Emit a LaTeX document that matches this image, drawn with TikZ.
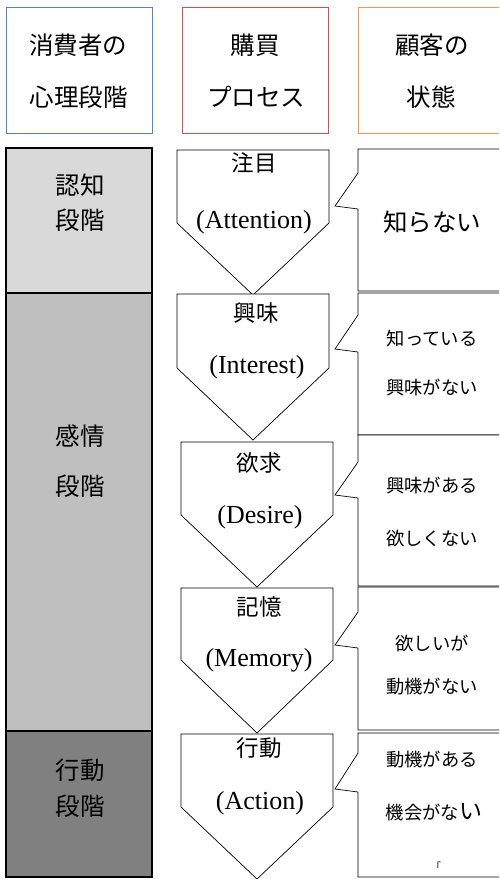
\documentclass[tikz,border=0pt]{standalone}
\usepackage{fontspec}
\newfontfamily\jp{Noto Sans CJK JP}
\newfontfamily\latf{Liberation Serif}
\definecolor{hblue}{RGB}{84,130,200}
\definecolor{hred}{RGB}{215,80,80}
\definecolor{horange}{RGB}{247,150,70}
\definecolor{gone}{RGB}{217,217,217}
\definecolor{gtwo}{RGB}{191,191,191}
\definecolor{gthree}{RGB}{128,128,128}
\newcommand\myPent[5]{\draw[pentst] (#1,#3) -- (#2,#3) -- (#2,#4) -- ({(#1+#2)/2},#5) -- (#1,#4) -- cycle;}
\newcommand\myCall[5]{\draw[callst] (358,#1) -- (515,#1) -- (515,#2) -- (358,#2) -- (358,#5) -- (335,#4) -- (358,#3) -- cycle;}
\begin{document}
\begin{tikzpicture}[x=1pt,y=-1pt,
  hdrbox/.style={line width=0.9pt, fill=white},
  stagebox/.style={draw=black, line width=1.1pt},
  pentst/.style={draw=black, line width=0.7pt, fill=white, line join=miter},
  callst/.style={draw=black, line width=0.7pt, fill=white},
  big/.style={inner sep=0pt, font=\jp\fontsize{24.5}{24.5}\selectfont},
  mid/.style={inner sep=0pt, font=\jp\fontsize{22.5}{22.5}\selectfont},
  lat/.style={inner sep=0pt, font=\latf\fontsize{26}{26}\selectfont},
  sml/.style={inner sep=0pt, font=\jp\fontsize{18.3}{18.3}\selectfont}]
\useasboundingbox (0,0) rectangle (499,879);
\clip (0,0) rectangle (499,879);
\fill[white] (0,0) rectangle (499,879);
% header boxes
\draw[hdrbox, draw=hblue] (6,7) rectangle (152,133);
\draw[hdrbox, draw=hred] (182,7) rectangle (328,133);
\draw[hdrbox, draw=horange] (358,7) rectangle (515,133);
\node[big] (h1a) at (78,45) {消費者の};
\node[big] (h1b) at (79,97) {心理段階};
\node[big] (h2a) at (255,45) {購買};
\node[big] (h2b) at (256,97) {プロセス};
\node[big] (h3a) at (432,45) {顧客の};
\node[big] (h3b) at (431,97) {状態};
% stage boxes
\draw[stagebox, fill=gone] (6,148) rectangle (152,293);
\draw[stagebox, fill=gtwo] (6,293) rectangle (152,731);
\draw[stagebox, fill=gthree] (6,731) rectangle (152,877);
\node[big] (s1a) at (80,185) {認知};
\node[big] (s1b) at (80,220) {段階};
\node[big] (s2a) at (80,436) {感情};
\node[big] (s2b) at (80,486) {段階};
\node[big] (s3a) at (80,770) {行動};
\node[big] (s3b) at (80,806) {段階};
% callouts
\myCall{149}{291}{173}{206}{209}
\myCall{293}{435}{315}{349}{352}
\myCall{435}{586}{462}{495}{498}
\myCall{587}{730}{612}{645}{648}
\myCall{733}{877}{753}{789}{792}
\node[big] (c1) at (432,222) {知らない};
\node[sml] (c2a) at (432,339) {知っている};
\node[sml] (c2b) at (432,388) {興味がない};
\node[sml] (c3a) at (432,486) {興味がある};
\node[sml] (c3b) at (432,539) {欲しくない};
\node[sml] (c4a) at (432,643) {欲しいが};
\node[sml] (c4b) at (432,687) {動機がない};
\node[sml] (c5a) at (432,760) {動機がある};
\node[sml, anchor=base] (c5b) at (434,819) {機会がな{\fontsize{23}{23}\selectfont い}};
\node[inner sep=0pt, font=\jp\fontsize{10}{10}\selectfont] (c5c) at (436,866) {「};
% pentagons
\myPent{177}{329}{150}{223}{295}
\myPent{177}{329}{294}{368}{440}
\myPent{181}{333}{442}{515}{587}
\myPent{181}{333}{588}{660}{733}
\myPent{181}{333}{734}{807}{879}
\node[mid] (p1a) at (254,163) {注目};
\node[lat] (p1b) at (254,222) {(Attention)};
\node[mid] (p2a) at (256,313) {興味};
\node[lat] (p2b) at (257,367) {(Interest)};
\node[mid] (p3a) at (259,463) {欲求};
\node[lat] (p3b) at (260,517) {(Desire)};
\node[mid] (p4a) at (259,607) {記憶};
\node[lat] (p4b) at (259,660) {(Memory)};
\node[mid] (p5a) at (259,748) {行動};
\node[lat] (p5b) at (260,803) {(Action)};
\end{tikzpicture}
\end{document}
